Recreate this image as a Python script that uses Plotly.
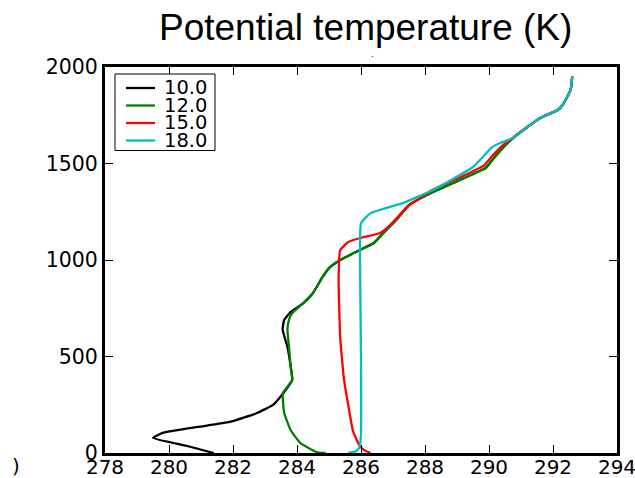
import plotly.graph_objects as go

# ---- data ----
series_names = ["10.0", "12.0", "15.0", "18.0"]
series_colors = ["#000000", "#008000", "#ff0000", "#00bfbf"]

theta_10 = [281.4, 280.6, 279.5, 279.8, 280.9, 281.9, 282.75, 283.25, 283.6, 283.85, 283.8,
            283.7, 283.55, 283.6, 283.8, 284.2, 284.5, 284.8, 285.0, 285.35, 285.97, 286.4,
            286.7, 287.1, 287.5, 288.25, 289.3, 289.9, 290.1, 290.45, 290.75, 291.2, 291.6,
            292.15, 292.3, 292.55, 292.6]
height_10 = [0, 35, 78, 104, 135, 161, 207, 249, 316, 378, 450,
             550, 640, 690, 730, 777, 829, 912, 958, 1000, 1052, 1088,
             1140, 1207, 1285, 1352, 1430, 1477, 1518, 1585, 1632, 1689, 1736,
             1777, 1803, 1881, 1950]

theta_12 = [284.9, 284.6, 284.1, 283.8, 283.6, 283.56, 283.85, 283.8,
            283.75, 283.7, 283.75, 283.85, 284.2, 284.5, 284.8, 285.0, 285.35, 285.97, 286.4,
            286.7, 287.1, 287.5, 288.25, 289.3, 289.9, 290.1, 290.45, 290.75, 291.2, 291.6,
            292.15, 292.3, 292.55, 292.6]
height_12 = [0, 5, 52, 119, 207, 311, 378, 450,
             550, 640, 690, 725, 777, 829, 912, 958, 1000, 1052, 1088,
             1140, 1207, 1285, 1352, 1430, 1477, 1518, 1585, 1632, 1689, 1736,
             1777, 1803, 1881, 1950]

theta_15 = [286.3, 286.1, 285.95, 285.75, 285.6, 285.47, 285.4, 285.35, 285.3, 285.35,
            285.6, 285.97, 286.6, 286.9, 287.45, 288.2, 289.25, 289.85, 290.05, 290.4,
            290.75, 291.2, 291.6, 292.15, 292.3, 292.55, 292.6]
height_15 = [0, 15, 40, 114, 250, 378, 500, 600, 900, 1050,
             1093, 1114, 1140, 1180, 1275, 1360, 1440, 1490, 1530, 1590,
             1632, 1689, 1736, 1777, 1803, 1881, 1950]

theta_18 = [285.6, 285.85, 285.95, 286.0, 286.0, 285.97, 286.0, 286.3, 287.3, 287.75,
            288.25, 289.5, 290.1, 290.35, 290.75, 291.2, 291.6, 292.15, 292.3, 292.55, 292.6]
height_18 = [0, 10, 30, 100, 500, 1000, 1190, 1243, 1295, 1326,
             1363, 1482, 1585, 1606, 1632, 1689, 1736, 1777, 1803, 1881, 1950]

x_ticks = [278, 280, 282, 284, 286, 288, 290, 292, 294]
y_ticks = [0, 500, 1000, 1500, 2000]
title_text = "Potential temperature (K)"

# plot-area geometry in pixels (layout only)
W, H = 635, 478
L, R, T, B = 105, 617, 67, 453
PW, PH = R - L, B - T


def px(xp):
    return (xp - L) / PW


def py(yp):
    return (B - yp) / PH


fig = go.Figure()
for name, color, xs, ys in zip(series_names, series_colors,
                               [theta_10, theta_12, theta_15, theta_18],
                               [height_10, height_12, height_15, height_18]):
    fig.add_trace(go.Scatter(x=xs, y=ys, mode="lines", name=name, showlegend=False,
                             line=dict(color=color, width=2.3, shape="spline", smoothing=0.4)))

common = dict(ticks="inside", ticklen=8, tickwidth=1.3, tickcolor="#000000",
              showline=True, linewidth=3, linecolor="#000000", mirror="ticks",
              showgrid=False, zeroline=False, automargin=False,
              ticklabeloverflow="allow")
fig.update_xaxes(range=[278, 294], tickvals=x_ticks, ticktext=[str(v) for v in x_ticks],
                 tickfont=dict(family="DejaVu Sans", size=20, color="#000000"),
                 ticklabelstandoff=-6, **common)
fig.update_yaxes(range=[0, 2000], tickvals=y_ticks, ticktext=[str(v) for v in y_ticks],
                 tickfont=dict(family="DejaVu Sans", size=20.5, color="#000000"), **common)

# legend drawn as a boxed key (layout elements)
row0, rowstep = 88, 17.5
shapes = [dict(type="rect", xref="paper", yref="paper",
               x0=px(115), x1=px(215), y0=py(74), y1=py(row0 + 3 * rowstep + 10),
               line=dict(color="#000000", width=1), fillcolor="#ffffff", layer="above")]
annotations = []
for i, (name, color) in enumerate(zip(series_names, series_colors)):
    yrow = row0 + i * rowstep
    shapes.append(dict(type="line", xref="paper", yref="paper",
                       x0=px(126), x1=px(155), y0=py(yrow), y1=py(yrow),
                       line=dict(color=color, width=2.3), layer="above"))
    annotations.append(dict(text=name, xref="paper", yref="paper", x=px(162), y=py(yrow),
                            showarrow=False, xanchor="left", yanchor="middle",
                            font=dict(family="DejaVu Sans", size=19.5, color="#000000")))

annotations += [
    dict(text=title_text, xref="paper", yref="paper", x=px(365), y=py(27),
         showarrow=False, xanchor="center", yanchor="middle",
         font=dict(family="Liberation Sans", size=37, color="#000000")),
    dict(text=")", xref="paper", yref="paper", x=px(16), y=py(466),
         showarrow=False, xanchor="center", yanchor="middle",
         font=dict(family="DejaVu Sans", size=20, color="#000000")),
    dict(text=".", xref="paper", yref="paper", x=px(372), y=py(54),
         showarrow=False, xanchor="center", yanchor="middle",
         font=dict(family="DejaVu Sans", size=9, color="#000000")),
]

fig.update_layout(
    width=W, height=H,
    margin=dict(l=L, r=W - R, t=T, b=H - B, autoexpand=False),
    paper_bgcolor="#ffffff", plot_bgcolor="#ffffff",
    showlegend=False,
    shapes=shapes,
    annotations=annotations,
)

fig.write_html("out.html", config={"displayModeBar": False},
               post_script="document.body.style.margin='0px';document.body.style.overflow='hidden';")
